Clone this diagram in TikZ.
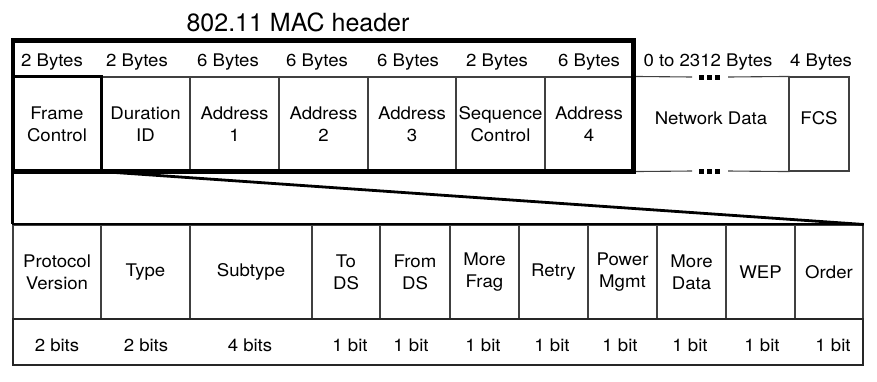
\documentclass[tikz,border=0pt]{standalone}
\usepackage{fontspec}
\setmainfont{TeX Gyre Heros}[FakeStretch=1.07]
\newfontfamily\hdrfam{TeX Gyre Heros}
\newcommand\lbltext{\fontsize{17.4}{22}\selectfont}
\newcommand\hdrtext{\hdrfam\fontsize{25}{29}\selectfont}
\tikzset{
  thinline/.style={draw=black!75, line width=1.1pt},
  cell/.style={thinline, minimum height=94pt, inner sep=0pt, align=center, font=\lbltext},
  lab/.style={inner sep=0pt, font=\lbltext, anchor=base},
  plain/.style={inner sep=0pt, font=\lbltext},
  dotsq/.style={fill=black, draw=none},
}
\begin{document}
\begin{tikzpicture}[x=1pt,y=-1pt]
\useasboundingbox (0,0) rectangle (877,381);
% header title
\node[inner sep=0pt, font=\hdrtext, anchor=base] (title) at (298,31.7) {802.11 MAC header};
% byte sizes
\node[lab] (b1) at (52,66) {2 Bytes};
\node[lab] (b2) at (137,66) {2 Bytes};
\node[lab] (b3) at (228,66) {6 Bytes};
\node[lab] (b4) at (317,66) {6 Bytes};
\node[lab] (b5) at (408,66) {6 Bytes};
\node[lab] (b6) at (497,66) {2 Bytes};
\node[lab] (b7) at (589,66) {6 Bytes};
\node[lab] (b8) at (708,66) {0 to 2312 Bytes};
\node[lab] (b9) at (821,66) {4 Bytes};
% top cells
\node[cell, minimum width=88pt] (fc)  at (57,124)    {Frame\\Control};
\node[cell, minimum width=89pt] (dur) at (145.5,124) {Duration\\ID};
\node[cell, minimum width=89pt] (a1)  at (234.5,124) {Address\\1};
\node[cell, minimum width=89pt] (a2)  at (323.5,124) {Address\\2};
\node[cell, minimum width=88pt] (a3)  at (412,124)   {Address\\3};
\node[cell, minimum width=89pt] (seq) at (500.5,124) {Sequence\\Control};
\node[cell, minimum width=88pt] (a4)  at (589,124)   {Address\\4};
\node[cell, draw=none, minimum width=156pt] (nd) at (711,124) {};
\node[cell, minimum width=60pt] (fcs) at (819,124) {};
\node[plain] (ndt) at (711,118) {Network Data};
\node[plain] (fcst) at (819,118) {FCS};
% network data open box
\coordinate (gt1) at (692,77); \coordinate (gt2) at (728,77);
\coordinate (gb1) at (692,171); \coordinate (gb2) at (728,171);
\draw[thinline] (nd.north west) -- (gt1) (gt2) -- (nd.north east);
\draw[thinline] (nd.south west) -- (gb1) (gb2) -- (nd.south east);
\foreach \x in {699,707,715}{
  \fill[dotsq] (\x,74.5) rectangle ++(5,5);
  \fill[dotsq] (\x,168.5) rectangle ++(5,5);
}
% bottom cells
\node[cell, minimum width=88pt]  (pv)   at (57,272)    {Protocol\\Version};
\node[cell, minimum width=89pt]  (ty)   at (145.5,272) {Type};
\node[cell, minimum width=122pt] (st)   at (251,272)   {Subtype};
\node[cell, minimum width=68pt]  (tods) at (346,272)   {To\\DS};
\node[cell, minimum width=70pt]  (frds) at (415,272)   {From\\DS};
\node[cell, minimum width=69pt]  (mf)   at (484.5,272) {More\\Frag};
\node[cell, minimum width=69pt]  (rt)   at (553.5,272) {Retry};
\node[cell, minimum width=69pt]  (pm)   at (622.5,272) {Power\\Mgmt};
\node[cell, minimum width=69pt]  (md)   at (691.5,272) {More\\Data};
\node[cell, minimum width=69pt]  (wep)  at (760.5,272) {WEP};
\node[cell, minimum width=68pt]  (ord)  at (829,272)   {Order};
\node[thinline, draw=black!85, minimum width=850pt, minimum height=46pt, inner sep=0pt] (bits) at (438,342) {};
\node[lab] (c1) at (57,351) {2 bits};
\node[lab] (c2) at (146,351) {2 bits};
\node[lab] (c3) at (250,351) {4 bits};
\node[lab] (c4) at (350,351) {1 bit};
\node[lab] (c5) at (411,351) {1 bit};
\node[lab] (c6) at (483,351) {1 bit};
\node[lab] (c7) at (552,351) {1 bit};
\node[lab] (c8) at (620,351) {1 bit};
\node[lab] (c9) at (690,351) {1 bit};
\node[lab] (c10) at (762,351) {1 bit};
\node[lab] (c11) at (833,351) {1 bit};
% heavy lines
\draw[line width=2pt] (pv.north west) -- (ord.north east);
\draw[line width=2.6pt] (fc.north west) -- (fc.north east) -- (fc.south east);
\coordinate (mtl) at (13,40.5);
\draw[line width=4.5pt] (mtl) rectangle (a4.south east);
\draw[line width=3.2pt] (fc.south west) -- (pv.north west);
\draw[line width=2.8pt] (fc.south east) -- (ord.north east);
\end{tikzpicture}
\end{document}
